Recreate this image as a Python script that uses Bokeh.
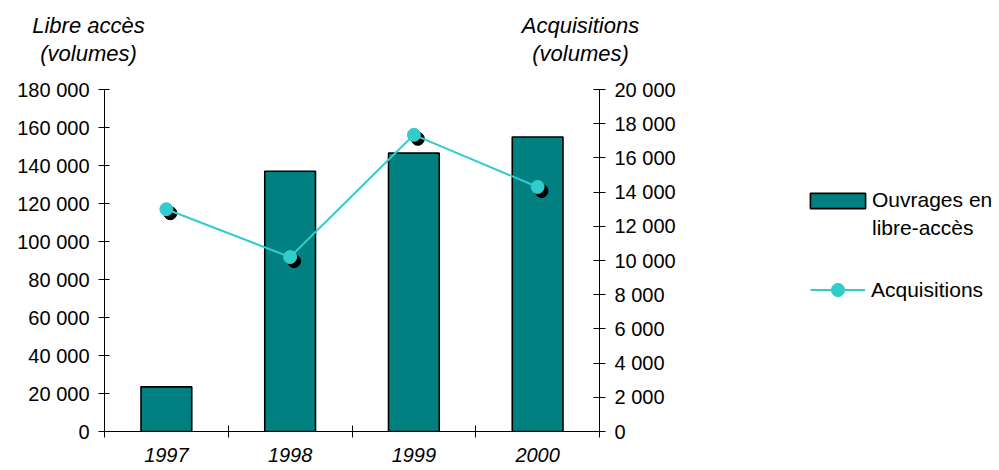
from bokeh.plotting import figure
from bokeh.layouts import row, column
from bokeh.models import (Range1d, LinearAxis, FixedTicker, CustomJSTickFormatter,
                          ColumnDataSource, Legend, LegendItem, Label)
from bokeh.transform import dodge
from bokeh.embed import file_html
from bokeh.resources import INLINE

years = ["1997", "1998", "1999", "2000"]
libre_acces = [23500, 137000, 146500, 155000]
acquisitions = [13000, 10200, 17350, 14300]
left_ticks = [0, 20000, 40000, 60000, 80000, 100000, 120000, 140000, 160000, 180000]
right_ticks = [0, 2000, 4000, 6000, 8000, 10000, 12000, 14000, 16000, 18000, 20000]
bar_label = ["Ouvrages en", "libre-accès"]
line_label = "Acquisitions"
left_title = ["Libre accès", "(volumes)"]
right_title = ["Acquisitions", "(volumes)"]

FONT = "Liberation Sans"
TEAL = "#008080"
CYAN = "#33CCCC"
NAN = float("nan")


def bare(fig):
    fig.grid.visible = False
    fig.outline_line_color = None
    return fig


xpos = [i + 0.5 for i in range(len(years))]
src = ColumnDataSource(dict(x=xpos, year=years, libre=libre_acces, acq=acquisitions))

# ---- titles strip ----
tf = bare(figure(width=999, height=75, output_backend="svg", toolbar_location=None,
                 x_range=Range1d(0, 1), y_range=Range1d(0, 1),
                 x_axis_location=None, y_axis_location=None,
                 min_border_left=0, min_border_right=0, min_border_top=0, min_border_bottom=0))
title_kw = dict(x_units="screen", y_units="screen", text_font=FONT, text_font_size="22px",
                text_font_style="italic", text_align="center", text_baseline="alphabetic",
                text_color="black")
for cx, lines in ((88, left_title), (580, right_title)):
    tf.add_layout(Label(x=cx, y=50, text=lines[0], **title_kw))
    tf.add_layout(Label(x=cx, y=22, text=lines[1], **title_kw))

# ---- main chart ----
p = bare(figure(width=699, height=395, output_backend="svg", toolbar_location=None,
                x_range=Range1d(0, len(years)), y_range=Range1d(0, 180000),
                min_border_left=104, min_border_right=100, min_border_top=14, min_border_bottom=39))
p.extra_y_ranges = {"acq": Range1d(0, 20000)}

fmt = CustomJSTickFormatter(code="return tick.toFixed(0).replace(/\\B(?=(\\d{3})+(?!\\d))/g, ' ');")

xa = p.xaxis[0]
xa.ticker = FixedTicker(ticks=xpos, minor_ticks=list(range(len(years) + 1)))
xa.major_label_overrides = {x: y for x, y in zip(xpos, years)}
xa.major_tick_in = 0
xa.major_tick_out = 0
xa.minor_tick_in = 6
xa.minor_tick_out = 6
xa.minor_tick_line_color = "black"
xa.axis_line_color = "black"
xa.major_label_standoff = 10
xa.major_label_text_font = FONT
xa.major_label_text_font_size = "20px"
xa.major_label_text_font_style = "italic"
xa.major_label_text_color = "black"

ya = p.yaxis[0]
ya.ticker = FixedTicker(ticks=left_ticks)
ya.formatter = fmt
ya.major_tick_in = 5
ya.major_tick_out = 6
ya.minor_tick_line_color = None
ya.axis_line_color = "black"
ya.major_tick_line_color = "black"
ya.major_label_standoff = 9
ya.major_label_text_font = FONT
ya.major_label_text_font_size = "20px"
ya.major_label_text_color = "black"

ra = LinearAxis(y_range_name="acq", ticker=FixedTicker(ticks=right_ticks), formatter=fmt)
ra.major_tick_in = 6
ra.major_tick_out = 6
ra.minor_tick_line_color = None
ra.axis_line_color = "black"
ra.major_tick_line_color = "black"
ra.major_label_standoff = 9
ra.major_label_text_font = FONT
ra.major_label_text_font_size = "20px"
ra.major_label_text_color = "black"
p.add_layout(ra, "right")

bar_style = dict(fill_color=TEAL, line_color="black", line_width=1.6)
line_style = dict(line_color=CYAN, line_width=2)
pt_style = dict(marker="circle", fill_color=CYAN, line_color=CYAN)

p.vbar(x="x", top="libre", width=0.41, source=src, **bar_style)
p.scatter(x=dodge("x", 0.032, range=p.x_range), y=dodge("acq", -234),
          source=src, y_range_name="acq", size=13, marker="circle",
          fill_color="black", line_color="black")
p.line(x="x", y="acq", source=src, y_range_name="acq", **line_style)
p.scatter(x="x", y="acq", source=src, y_range_name="acq", size=13, **pt_style)

# ---- legend panel ----
lg = bare(figure(width=300, height=395, output_backend="svg", toolbar_location=None,
                 x_range=Range1d(0, 1), y_range=Range1d(0, 1),
                 x_axis_location=None, y_axis_location=None,
                 min_border_left=0, min_border_right=0, min_border_top=0, min_border_bottom=0))
key = ColumnDataSource(dict(x=[NAN], y=[NAN]))
lb = lg.vbar(x="x", top="y", width=0.4, source=key, **bar_style)
lnone = lg.scatter(x="x", y="y", source=key, fill_alpha=0, line_alpha=0)
ll = lg.line(x="x", y="y", source=key, **line_style)
lp = lg.scatter(x="x", y="y", source=key, size=13, **pt_style)

leg_kw = dict(label_text_font=FONT, label_text_font_size="21px", label_text_color="black",
              border_line_color=None, background_fill_alpha=0, padding=0, margin=0)
leg1 = Legend(items=[LegendItem(label=bar_label[0], renderers=[lb]),
                     LegendItem(label=bar_label[1], renderers=[lnone])],
              location=(104, 191), glyph_width=69, glyph_height=19, label_height=14,
              label_standoff=0, spacing=4, **leg_kw)
leg2 = Legend(items=[LegendItem(label=line_label, renderers=[ll, lp])],
              location=(111, 125), glyph_width=55, glyph_height=33,
              label_standoff=6, **leg_kw)
lg.add_layout(leg1, "center")
lg.add_layout(leg2, "center")

layout = column(tf, row(p, lg, spacing=0), spacing=0)
open("out.html", "w").write(file_html(layout, INLINE))
